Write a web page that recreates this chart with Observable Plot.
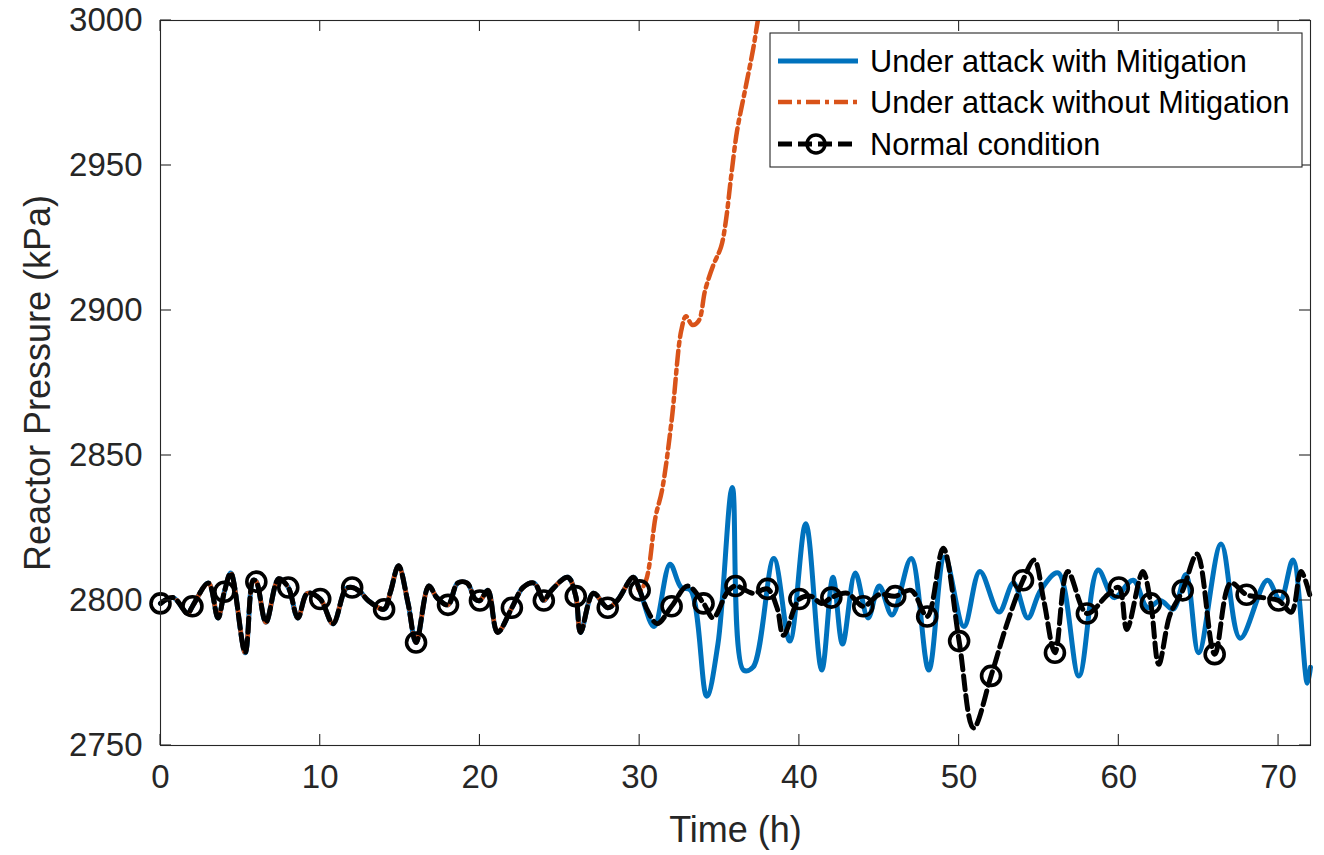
<!DOCTYPE html>
<html><head><meta charset="utf-8">
<script src="https://cdn.jsdelivr.net/npm/d3@7"></script>
<script src="https://cdn.jsdelivr.net/npm/@observablehq/plot@0.6"></script>
<style>html,body{margin:0;padding:0;background:#fff;} #chart svg{display:block;}</style>
</head><body><div id="chart"></div>
<script>
// shared portion (0–30 h), identical for all three runs
const commonT = [0,0.8,1.7,2,3,3.6,4,4.4,5.3,5.8,6,6.6,7.4,8,8.6,9.2,10,10.8,11.6,12,12.5,13,14,14.4,14.9,15.5,16,16.8,17.3,18,18.6,19.2,19.7,20,20.5,21.1,22,22.7,23.4,24,24.4,25.5,26,26.3,27.1,28,28.6,29.6,30];
const commonP = [2799,2801,2795.5,2798,2806,2794,2803,2809.5,2782,2807,2806.5,2792.5,2807.5,2804.5,2794,2802.5,2800.5,2792,2804,2804.5,2803,2800,2797,2803,2812,2799,2785.5,2805,2801,2798.5,2806,2806,2800.5,2800,2803.5,2789,2797.5,2804.5,2806,2800,2803,2808,2801.5,2789,2802.5,2797.5,2800,2808,2803.5];

// under attack with mitigation (after 30 h)
const mitigT = [30.9,31.9,32.6,33.2,34.2,34.9,35.8,36.5,37.1,38.4,39.4,40.4,41.4,42.1,42.7,43.5,44.3,45,45.8,47,48.1,49.1,50.3,51.3,52.5,53.4,54.3,55.1,56.2,57.5,58.7,59.7,60.9,61.8,62.6,63.4,64.2,65,66.4,67.6,69.3,70.1,70.9,71.8,72];
const mitigP = [2791,2812.5,2804.5,2803.5,2767,2785,2839,2776,2777,2814.5,2786,2826.5,2776,2808,2785,2809.5,2794,2805,2795,2814.5,2776,2815,2791,2810,2796,2806,2794,2803.5,2809.5,2774,2810.5,2801,2807,2797.5,2800,2797,2809,2782,2819.5,2787,2807,2800,2814,2771.5,2777];

// under attack without mitigation (after 30 h)
const attackT = [30.4,31,31.4,32,32.6,32.9,33.3,33.7,34.1,34.6,35.1,35.4,35.7,36.1,36.6,37.1,37.4,37.8];
const attackP = [2807,2829,2838,2862,2893,2898,2895,2896.5,2907,2915.5,2922,2931,2945,2962,2976,2990,3000,3012];

// normal condition (after 30 h)
const normalT = [30.5,31.1,32,33,34,34.6,35.5,36,37.1,38,38.6,39,40,40.7,41.4,42,43,44,45,46,47,48,49,50,50.9,52,53,54,54.7,55.3,56,56.8,58,59.3,60,60.5,61.5,62,62.5,63.2,64,64.9,66,67,68,69,70,70.8,71.4,72];
const normalP = [2796.5,2792,2798,2805,2799,2794,2803,2805,2802.5,2804,2797.5,2788,2800.5,2801.5,2799,2801,2802.5,2798,2802,2801.5,2803.5,2794.5,2818,2786,2756,2774,2792,2807,2814,2800,2782,2810,2795.5,2802,2804.5,2790,2810,2799,2778,2795,2803.5,2816,2781.5,2806,2802,2801,2800,2796,2810,2801];

const xTicks = [0,10,20,30,40,50,60,70];
const yTicks = [2750,2800,2850,2900,2950,3000];
const seriesNames = ["Under attack with Mitigation","Under attack without Mitigation","Normal condition"];
const seriesColors = ["#0072BD","#D95319","#000000"];

const toRows = (ts, ps) => ts.map((t, i) => ({t, p: ps[i]}));
const common = toRows(commonT, commonP);
const mitig = common.concat(toRows(mitigT, mitigP));
const attack = common.concat(toRows(attackT, attackP));
const normal = common.concat(toRows(normalT, normalP));
const markers = normal.filter(d => d.t % 2 === 0 && d.t <= 70);

const FONT = "'Liberation Sans', Arial, Helvetica, sans-serif";
const DASH_ATTACK = "14,5,4,5";
const DASH_NORMAL = "14,6";

function decorations(index, scales, values, dimensions) {
  const {x, y} = scales;
  const {width, height, marginLeft, marginRight, marginTop, marginBottom} = dimensions;
  const L = marginLeft, R = width - marginRight, T = marginTop, B = height - marginBottom;
  const len = 11;
  const g = d3.create("svg:g").attr("stroke", "#262626").attr("stroke-width", 1.1).attr("fill", "none");
  for (const v of xTicks) {
    const px = x(v);
    g.append("line").attr("x1", px).attr("x2", px).attr("y1", B).attr("y2", B - len);
    g.append("line").attr("x1", px).attr("x2", px).attr("y1", T).attr("y2", T + len);
  }
  for (const v of yTicks) {
    const py = y(v);
    g.append("line").attr("x1", L).attr("x2", L + len).attr("y1", py).attr("y2", py);
    g.append("line").attr("x1", R).attr("x2", R - len).attr("y1", py).attr("y2", py);
  }
  // legend
  const lg = d3.create("svg:g");
  const bx = 770, by = 33, bw = 532, bh = 134;
  lg.append("rect").attr("x", bx).attr("y", by).attr("width", bw).attr("height", bh)
    .attr("fill", "white").attr("stroke", "#262626").attr("stroke-width", 1.1);
  const rows = [61, 102, 144];
  const dashes = [null, DASH_ATTACK, DASH_NORMAL];
  const widths = [5, 4.5, 5];
  seriesNames.forEach((name, i) => {
    const yy = rows[i];
    const ln = lg.append("line").attr("x1", 778).attr("x2", 858).attr("y1", yy).attr("y2", yy)
      .attr("stroke", seriesColors[i]).attr("stroke-width", widths[i]);
    if (dashes[i]) ln.attr("stroke-dasharray", dashes[i]);
    if (i === 2) lg.append("circle").attr("cx", 816).attr("cy", yy).attr("r", 9)
      .attr("fill", "none").attr("stroke", "black").attr("stroke-width", 3.5);
    lg.append("text").attr("x", 870).attr("y", yy).attr("dy", "0.35em")
      .attr("text-anchor", "start")
      .attr("font-size", 30.7).attr("fill", "#000").attr("stroke", "none")
      .attr("font-family", FONT).text(name);
  });
  const root = d3.create("svg:g");
  root.append(() => g.node());
  root.append(() => lg.node());
  return root.node();
}

const chart = Plot.plot({
  width: 1324,
  height: 855,
  marginLeft: 160,
  marginRight: 14,
  marginTop: 20,
  marginBottom: 110,
  style: {fontFamily: FONT, fontSize: "33px", color: "#262626", background: "white"},
  x: {domain: [0, 72], ticks: xTicks, tickSize: 0, tickPadding: 19, tickFormat: d3.format("d"), label: null},
  y: {domain: [2750, 3000], ticks: yTicks, tickSize: 0, tickPadding: 18, tickFormat: d3.format("d"), label: null},
  marks: [
    Plot.line(mitig, {x: "t", y: "p", stroke: seriesColors[0], strokeWidth: 5, curve: "catmull-rom"}),
    Plot.line(attack, {x: "t", y: "p", stroke: seriesColors[1], strokeWidth: 4.5, strokeDasharray: DASH_ATTACK, curve: "catmull-rom", clip: true}),
    Plot.line(normal, {x: "t", y: "p", stroke: seriesColors[2], strokeWidth: 5, strokeDasharray: DASH_NORMAL, curve: "catmull-rom"}),
    Plot.dot(markers, {x: "t", y: "p", r: 9.5, fill: "none", stroke: "black", strokeWidth: 3.6}),
    Plot.frame({stroke: "#262626", strokeWidth: 1.1}),
    Plot.text(["Time (h)"], {frameAnchor: "bottom", textAnchor: "middle", lineAnchor: "middle", dy: 85, fontSize: 36, fill: "#262626"}),
    Plot.text(["Reactor Pressure (kPa)"], {frameAnchor: "left", textAnchor: "middle", lineAnchor: "middle", rotate: -90, dx: -122, fontSize: 36, fill: "#262626"}),
    decorations
  ]
});
document.getElementById("chart").appendChild(chart);
</script>
</body></html>
